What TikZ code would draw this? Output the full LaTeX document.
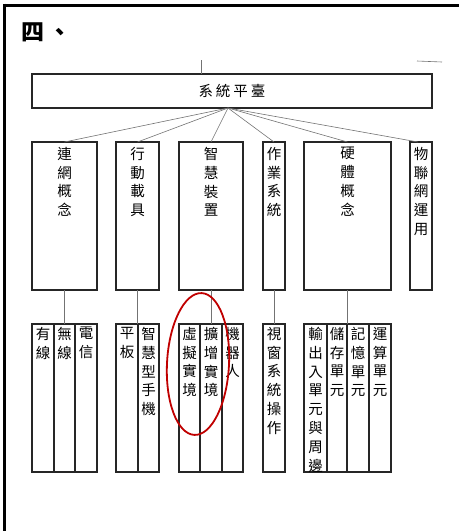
\documentclass[tikz,border=0pt]{standalone}
\usepackage{fontspec}
\newfontfamily\cjk{Noto Sans CJK TC}
\usetikzlibrary{calc}
\definecolor{markred}{RGB}{192,0,0}

\begin{document}
\begin{tikzpicture}[x=1pt,y=-1pt]
    \tikzstyle{box}=[draw=black!85, line width=1.3pt, inner sep=0pt, outer sep=0pt, minimum height=148pt]
    \tikzstyle{txt}=[anchor=north, inner sep=0pt, align=center, font=\cjk\fontsize{14.5}{18.8}\selectfont]
    \tikzstyle{conn}=[draw=black!55, line width=0.6pt]
    \useasboundingbox (0,0) rectangle (459,531);
    % page frame
    \draw[line width=3pt] (3,5) -- (459,5);
    \draw[line width=3pt] (4.5,3.5) -- (4.5,531);
    \node[anchor=west, inner sep=0pt, font=\cjk\bfseries\fontsize{23}{23}\selectfont] (title) at (21,32) {四\hspace{4pt}、};
    % top
    \node[box, line width=1.5pt, minimum width=400pt, minimum height=34pt, font=\cjk\fontsize{14.5}{14.5}\selectfont] (T) at (232,91) {系\hspace{3pt}統\hspace{3pt}平\hspace{3pt}臺};
    \coordinate (stub) at (201,60);
    \draw[conn] (stub) -- (stub |- T.north);
    \coordinate (tick) at (417,61);
    \draw[conn] (tick) -- (442,62);
    \coordinate (hub) at (228,108);
    % second level
    \node[box, minimum width=65pt] (C1) at (64.5,216) {};
    \node[box, minimum width=43pt] (C2) at (137.5,216) {};
    \node[box, minimum width=64pt] (C3) at (211,216) {};
    \node[box, minimum width=22pt] (C4) at (274,216) {};
    \node[box, minimum width=87pt] (C5) at (347.5,216) {};
    \node[box, minimum width=22pt] (C6) at (421,216) {};
    \node[txt, yshift=-5pt] (C1t) at (C1.north) {連\\網\\概\\念};
    \node[txt, yshift=-5pt] (C2t) at (C2.north) {行\\動\\載\\具};
    \node[txt, yshift=-5pt] (C3t) at (C3.north) {智\\慧\\裝\\置};
    \node[txt, yshift=-5pt] (C4t) at (C4.north) {作\\業\\系\\統};
    \node[txt, yshift=-5pt] (C5t) at (C5.north) {硬\\體\\概\\念};
    \node[txt, yshift=-5pt] (C6t) at (C6.north) {物\\聯\\網\\運\\用};
    \draw[conn] (hub) -- (C1.north);
    \draw[conn] (hub) -- (C2.north);
    \draw[conn] (hub) -- (C3.north);
    \draw[conn] (hub) -- (C4.north);
    \draw[conn] (hub) -- (C5.north);
    \draw[conn] (hub) -- (418,142);
    % third level
    \node[box, minimum width=22pt] (G11) at (43,398) {};
    \node[box, minimum width=21pt] (G12) at (64.5,398) {};
    \node[box, minimum width=22pt] (G13) at (86,398) {};
    \node[box, minimum width=22pt] (G21) at (127,398) {};
    \node[box, minimum width=21pt] (G22) at (148.5,398) {};
    \node[box, minimum width=21pt] (G31) at (189.5,398) {};
    \node[box, minimum width=22pt] (G32) at (211,398) {};
    \node[box, minimum width=21pt] (G33) at (232.5,398) {};
    \node[box, minimum width=22pt] (G41) at (274,398) {};
    \node[box, minimum width=23pt] (G51) at (315.5,398) {};
    \node[box, minimum width=20pt] (G52) at (337,398) {};
    \node[box, minimum width=22pt] (G53) at (358,398) {};
    \node[box, minimum width=22pt] (G54) at (380,398) {};
    \node[txt, yshift=-3pt] (G11t) at (G11.north) {有\\線};
    \node[txt, yshift=-3pt] (G12t) at (G12.north) {無\\線};
    \node[txt, yshift=-3pt] (G13t) at (G13.north) {電\\信};
    \node[txt, yshift=-3pt] (G21t) at (G21.north) {平\\板};
    \node[txt, yshift=-3pt] (G22t) at (G22.north) {智\\慧\\型\\手\\機};
    \node[txt, yshift=-3pt] (G31t) at (G31.north) {虛\\擬\\實\\境};
    \node[txt, yshift=-3pt] (G32t) at (G32.north) {擴\\增\\實\\境};
    \node[txt, yshift=-3pt] (G33t) at (G33.north) {機\\器\\人};
    \node[txt, yshift=-3pt] (G41t) at (G41.north) {視\\窗\\系\\統\\操\\作};
    \node[txt, yshift=-3pt] (G51t) at (G51.north) {輸\\出\\入\\單\\元\\與\\周\\邊};
    \node[txt, yshift=-3pt] (G52t) at (G52.north) {儲\\存\\單\\元};
    \node[txt, yshift=-3pt] (G53t) at (G53.north) {記\\憶\\單\\元};
    \node[txt, yshift=-3pt] (G54t) at (G54.north) {運\\算\\單\\元};
    \draw[conn] (C1.south) -- (C1.south |- G12.north);
    \draw[conn] (C2.south) -- (C2.south |- G22.north);
    \draw[conn] (C3.south) -- (G32.north);
    \draw[conn] (C4.south) -- (G41.north);
    \draw[conn] (C5.south) -- (C5.south |- G53.north);
    % mark
    \draw[markred, line width=1.8pt, rotate around={-3:(198,364)}] (198,364) ellipse (31 and 71);
\end{tikzpicture}
\end{document}
